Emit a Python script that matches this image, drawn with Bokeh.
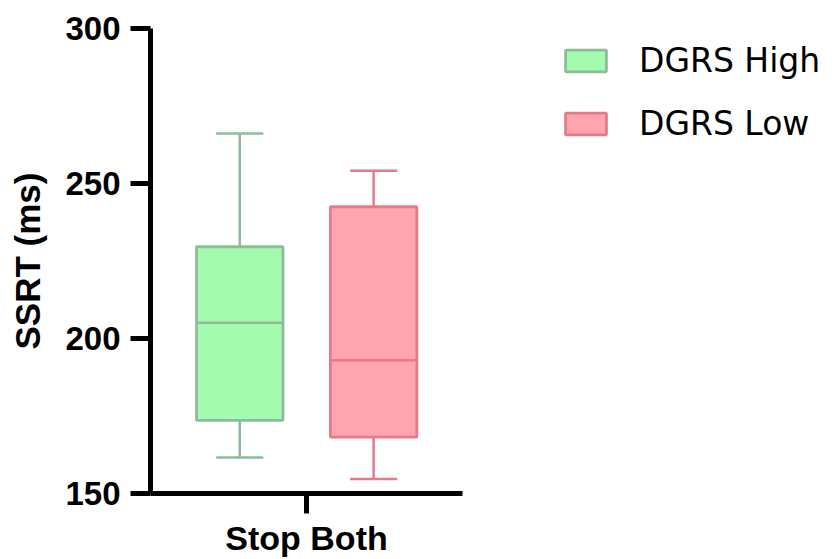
from bokeh.plotting import figure
from bokeh.models import ColumnDataSource, Range1d, Legend, LegendItem, FixedTicker
from bokeh.transform import dodge
from bokeh.embed import file_html
from bokeh.resources import INLINE

# ---- data ----
categories = ["Stop Both"]
groups = ["DGRS High", "DGRS Low"]
whisker_low = [161.6, 154.7]
q1 = [173.6, 168.2]
median = [205.1, 193.0]
q3 = [229.6, 242.5]
whisker_high = [266.1, 254.1]
y_ticks = [150, 200, 250, 300]

# ---- styles ----
fills = ["#A4FBB0", "#FFA5AF"]
lines = ["#8FBC98", "#E8798B"]
offsets = [-0.214, 0.215]
box_w = 0.277
cap_w = 0.151

# category positions on a numeric axis (one unit per category)
cat_pos = [i + 0.5 for i in range(len(categories))]

p = figure(
    x_range=Range1d(0, 2.147),
    y_range=Range1d(150, 300),
    width=830, height=559,
    output_backend="svg", toolbar_location=None,
    min_border_left=150, min_border_right=10,
    min_border_top=28, min_border_bottom=65,
)
p.outline_line_color = None
p.grid.visible = False
p.background_fill_color = "white"
p.border_fill_color = "white"

box_renderers = []
for i, g in enumerate(groups):
    src = ColumnDataSource(dict(
        x=[cat_pos[0]], lo=[whisker_low[i]], q1=[q1[i]],
        med=[median[i]], q3=[q3[i]], hi=[whisker_high[i]],
    ))
    xc = dodge("x", offsets[i])
    xl = dodge("x", offsets[i] - cap_w / 2)
    xr = dodge("x", offsets[i] + cap_w / 2)
    bl = dodge("x", offsets[i] - box_w / 2)
    br = dodge("x", offsets[i] + box_w / 2)
    kw = dict(source=src, line_color=lines[i], line_width=2.5)
    p.segment(x0=xc, y0="q3", x1=xc, y1="hi", **kw)
    p.segment(x0=xc, y0="lo", x1=xc, y1="q1", **kw)
    p.segment(x0=xl, y0="hi", x1=xr, y1="hi", **kw)
    p.segment(x0=xl, y0="lo", x1=xr, y1="lo", **kw)
    r = p.vbar(x=xc, width=box_w, bottom="q1", top="q3", source=src,
               fill_color=fills[i], line_color=lines[i], line_width=2.8)
    p.segment(x0=bl, y0="med", x1=br, y1="med", **kw)
    box_renderers.append(r)

for ax in (p.xaxis[0], p.yaxis[0]):
    ax.axis_line_width = 5
    ax.axis_line_color = "black"
    ax.major_tick_line_width = 5
    ax.major_tick_line_color = "black"
    ax.major_tick_out = 20
    ax.major_tick_in = 0
    ax.minor_tick_line_color = None
    ax.major_label_text_font = "Liberation Sans"
    ax.major_label_text_font_style = "bold"
    ax.major_label_text_color = "black"

p.yaxis.ticker = FixedTicker(ticks=y_ticks)
p.yaxis.major_label_text_font_size = "33px"
p.yaxis.major_label_standoff = 10
p.yaxis.axis_label = "SSRT (ms)"
p.yaxis.axis_label_text_font = "Liberation Sans"
p.yaxis.axis_label_text_font_style = "bold"
p.yaxis.axis_label_text_font_size = "35px"
p.yaxis.axis_label_text_color = "black"
p.yaxis.axis_label_standoff = 15

p.xaxis.bounds = (0, len(categories))
p.xaxis.ticker = FixedTicker(ticks=cat_pos)
p.xaxis.major_label_overrides = {cat_pos[k]: categories[k] for k in range(len(categories))}
p.xaxis.major_label_text_font_size = "34px"
p.xaxis.major_label_standoff = 5

legend = Legend(
    items=[LegendItem(label=groups[i], renderers=[box_renderers[i]]) for i in range(len(groups))],
    location=(410, 350),
    glyph_width=51, glyph_height=27,
    label_text_font="DejaVu Sans", label_text_font_size="33px",
    label_text_color="black",
    label_standoff=28, spacing=24, padding=0, margin=0,
    border_line_color=None, background_fill_alpha=0,
)
p.add_layout(legend)

open("out.html", "w").write(file_html(p, INLINE))
